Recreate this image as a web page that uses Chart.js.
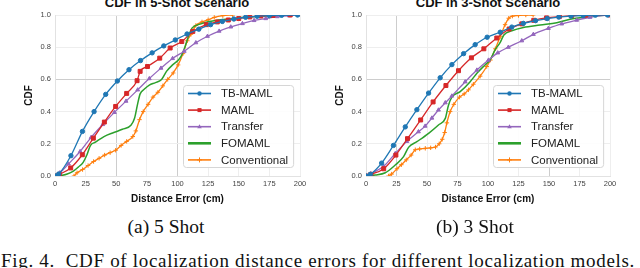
<!DOCTYPE html>
<html>
<head>
<meta charset="utf-8">
<script src="https://cdn.jsdelivr.net/npm/chart.js@4.4.1/dist/chart.umd.min.js"></script>
<style>
	html, body { margin: 0; padding: 0; background: #fff; }
	body { width: 640px; height: 268px; position: relative; overflow: hidden; font-family: "Liberation Sans", Arial, sans-serif; }
	canvas { position: absolute; top: 0; }
	.titulo { position: absolute; top: -4px; width: 320px; text-align: center; font-weight: bold; font-size: 13px; line-height: 14px; color: #111; }
	.sub { position: absolute; top: 216px; width: 200px; text-align: center; font-family: "Liberation Serif", "Times New Roman", serif; font-size: 19.5px; line-height: 22px; color: #111; white-space: nowrap; }
	.pie { position: absolute; top: 250px; left: 1px; font-family: "Liberation Serif", "Times New Roman", serif; font-size: 19px; line-height: 22px; color: #111; white-space: nowrap; }
</style>
</head>
<body>
<div class="titulo" style="left:17px">CDF in 5-Shot Scenario</div>
<div class="titulo" style="left:328px">CDF in 3-Shot Scenario</div>
<canvas id="grafico5" width="320" height="209" style="left:0"></canvas>
<canvas id="grafico3" width="320" height="209" style="left:311px"></canvas>
<div class="sub" style="left:66px">(a) 5 Shot</div>
<div class="sub" style="left:375px">(b) 3 Shot</div>
<div class="pie" id="pie">Fig. 4.&nbsp; CDF of localization distance errors for different localization models.</div>
<script>
// Modelos y colores
const modelos = ["TB-MAML", "MAML", "Transfer", "FOMAML", "Conventional"];
const colores = ["#1f77b4", "#d62728", "#9467bd", "#2ca02c", "#ff7f0e"];
const marcadores = ["circle", "rect", "triangle", "none", "cross"];

// 5-shot: pares [error (cm), CDF]
const tbMaml5 = [[0, 0], [3, 0.012], [13, 0.126], [22.4, 0.277], [31.9, 0.4], [41.4, 0.507], [50.9, 0.59], [60.4, 0.66], [69.8, 0.717], [79.3, 0.765], [88.8, 0.808], [98.2, 0.845], [107.8, 0.882], [117.4, 0.912], [127, 0.94], [136.6, 0.96], [146, 0.975], [155.6, 0.986], [165, 0.992], [175, 0.996], [185, 0.998], [198, 1.0]];
const maml5 = [[0, 0], [3.5, 0.01], [12.8, 0.05], [22.3, 0.132], [31.3, 0.235], [40.3, 0.335], [49.5, 0.432], [58.5, 0.513], [67, 0.592], [69.5, 0.65], [75.5, 0.68], [85.5, 0.732], [94, 0.795], [103.5, 0.835], [112.5, 0.898], [123.5, 0.94], [132.5, 0.957], [141.5, 0.969], [150, 0.978], [159, 0.988], [168, 0.994], [178, 0.997], [192, 1.0]];
const transfer5 = [[0, 0], [4, 0.02], [11, 0.075], [20.5, 0.152], [29.5, 0.24], [39, 0.32], [48.5, 0.395], [58, 0.465], [67.5, 0.535], [77, 0.605], [86.5, 0.67], [96, 0.73], [105.5, 0.775], [115, 0.828], [124.5, 0.868], [134, 0.9], [143.5, 0.926], [153, 0.947], [162.5, 0.966], [172, 0.978], [181.5, 0.99], [191, 0.996], [200, 1.0]];
const fomaml5 = [[0, 0], [5, 0.003], [10, 0.012], [15, 0.03], [19, 0.055], [23, 0.085], [26, 0.13], [29, 0.19], [33, 0.21], [40, 0.245], [48, 0.27], [55, 0.29], [62, 0.315], [65, 0.36], [67.5, 0.45], [69.5, 0.51], [73, 0.54], [77, 0.565], [82, 0.58], [87, 0.6], [91, 0.65], [96, 0.69], [100, 0.715], [103, 0.745], [106, 0.8], [109, 0.87], [112, 0.92], [117, 0.94], [125, 0.958], [135, 0.97], [150, 0.982], [165, 0.99], [180, 0.997], [195, 1.0]];
const conventional5 = [[15.5, 0], [18, 0.02], [22.5, 0.04], [27, 0.065], [31.5, 0.09], [36, 0.11], [40.5, 0.13], [45, 0.145], [49.5, 0.16], [54, 0.19], [58.5, 0.215], [63.5, 0.245], [66, 0.28], [69, 0.35], [72, 0.4], [76, 0.445], [80, 0.49], [84, 0.52], [88, 0.56], [92, 0.6], [96.5, 0.64], [100.5, 0.69], [104.5, 0.76], [108, 0.84], [111, 0.88], [115, 0.935], [120, 0.957], [125, 0.97], [130, 0.985], [137, 0.996], [145, 1.0]];

// 3-shot
const tbMaml3 = [[0, 0], [3.5, 0.01], [12.8, 0.08], [22.5, 0.19], [32.2, 0.305], [41.7, 0.412], [51.3, 0.515], [60.8, 0.61], [70.4, 0.692], [80, 0.76], [89.5, 0.816], [99.3, 0.862], [110, 0.893], [119.5, 0.925], [129, 0.948], [139, 0.965], [148.5, 0.978], [158, 0.987], [168, 0.993], [178, 0.997], [188, 0.999], [198, 1.0]];
const maml3 = [[0, 0], [4, 0.01], [14.5, 0.045], [24.5, 0.13], [34, 0.232], [44.8, 0.348], [55, 0.46], [65.5, 0.562], [75.8, 0.654], [86.4, 0.734], [96.6, 0.79], [107.2, 0.857], [117.3, 0.913], [127.7, 0.945], [137.5, 0.967], [148, 0.982], [158.5, 0.99], [168.6, 0.996], [180, 0.999], [200, 1.0]];
const transfer3 = [[0, 0], [4, 0.015], [14.5, 0.06], [24, 0.14], [33.5, 0.215], [43, 0.275], [48.5, 0.31], [54, 0.36], [59.4, 0.41], [65, 0.455], [70.4, 0.497], [81.3, 0.585], [90.9, 0.658], [100.4, 0.72], [108, 0.765], [116.7, 0.8], [127.7, 0.84], [137.2, 0.88], [149.5, 0.917], [160.4, 0.945], [172.7, 0.968], [183.6, 0.986], [198, 1.0]];
const fomaml3 = [[0, 0], [7.6, 0.006], [15.8, 0.02], [24, 0.068], [30.8, 0.12], [34.9, 0.178], [41.7, 0.213], [51.3, 0.265], [59.4, 0.317], [65, 0.358], [67.6, 0.44], [70.4, 0.49], [77.2, 0.524], [85.4, 0.586], [90.9, 0.638], [97.6, 0.69], [101.7, 0.72], [105.8, 0.783], [110, 0.83], [113, 0.876], [119.5, 0.902], [129, 0.923], [142.7, 0.938], [156.4, 0.952], [167.2, 0.973], [183.6, 0.989], [197, 1.0]];
const conventional3 = [[18.5, 0], [21, 0.012], [25.4, 0.045], [29, 0.07], [33, 0.1], [37, 0.13], [40.4, 0.163], [44, 0.168], [48.6, 0.172], [53, 0.175], [57, 0.18], [60, 0.2], [62.5, 0.228], [64.5, 0.27], [66.3, 0.33], [69, 0.4], [72, 0.445], [76.6, 0.49], [80.5, 0.51], [84, 0.535], [88, 0.57], [93.6, 0.62], [99, 0.68], [102, 0.72], [106, 0.79], [110, 0.865], [114, 0.94], [117, 0.98], [120, 0.993], [125, 0.997], [131, 1.0], [137, 1.0]];

const fuente = '"Liberation Sans", Arial, sans-serif';

// Dibuja un marcador pequeño (para la leyenda)
const marcador = (ctx, estilo, x, y, color) => {
	ctx.fillStyle = color;
	ctx.strokeStyle = color;
	ctx.lineWidth = 1;
	ctx.beginPath();
	if (estilo === "circle") {
		ctx.arc(x, y, 2.2, 0, Math.PI * 2);
		ctx.fill();
	} else if (estilo === "rect") {
		ctx.fillRect(x - 2, y - 2, 4, 4);
	} else if (estilo === "triangle") {
		ctx.moveTo(x, y - 2.4);
		ctx.lineTo(x + 2.3, y + 1.6);
		ctx.lineTo(x - 2.3, y + 1.6);
		ctx.closePath();
		ctx.fill();
	} else if (estilo === "cross") {
		ctx.moveTo(x - 2.5, y);
		ctx.lineTo(x + 2.5, y);
		ctx.moveTo(x, y - 2.5);
		ctx.lineTo(x, y + 2.5);
		ctx.stroke();
	}
};

// Leyenda dentro del área del gráfico, abajo a la derecha
const cuadroLeyenda = {
	id: "cuadroLeyenda",
	afterDatasetsDraw(chart) {
		const { ctx, chartArea } = chart;
		const sets = chart.data.datasets;
		ctx.save();
		ctx.font = "11.5px " + fuente;
		const anchoTexto = Math.max(...sets.map((d) => ctx.measureText(d.label).width));
		const ancho = 43 + anchoTexto;
		const alto = 82;
		const x0 = Math.round(chartArea.right - 7 - ancho);
		const y0 = Math.round(chartArea.bottom - 9 - alto);
		ctx.fillStyle = "rgba(255,255,255,0.85)";
		ctx.strokeStyle = "#d6d6d6";
		ctx.lineWidth = 1;
		ctx.beginPath();
		ctx.roundRect(x0 + 0.5, y0 + 0.5, ancho, alto, 3);
		ctx.fill();
		ctx.stroke();
		sets.forEach((d, i) => {
			const yc = y0 + 8.5 + i * 16.6;
			ctx.strokeStyle = d.borderColor;
			ctx.lineWidth = d.label === "FOMAML" ? 2.6 : 1.6;
			ctx.beginPath();
			ctx.moveTo(x0 + 5, yc);
			ctx.lineTo(x0 + 28, yc);
			ctx.stroke();
			marcador(ctx, d.marca, x0 + 16.5, yc, d.borderColor);
			ctx.fillStyle = "#222";
			ctx.textBaseline = "middle";
			ctx.fillText(d.label, x0 + 38, yc + 0.5);
		});
		ctx.restore();
	},
};

const cerca = (a, lista) => lista.some((b) => Math.abs(a - b) < 1e-6);

function grafico(id, series, oscurosX, derecha) {
	const ctx = document.getElementById(id);
	return new Chart(ctx, {
		type: "line",
		data: {
			datasets: series.map((pares, i) => ({
				label: modelos[i],
				data: pares.map(([x, y]) => ({ x: x, y: y })),
				borderColor: colores[i],
				backgroundColor: colores[i],
				borderWidth: i === 3 ? 1.5 : 1.3,
				pointStyle: marcadores[i] === "none" ? "circle" : marcadores[i],
				pointRadius: marcadores[i] === "none" ? 0 : (marcadores[i] === "rect" ? 2.8 : 2.2),
				pointBorderWidth: 1,
				cubicInterpolationMode: "monotone",
				marca: marcadores[i],
			})),
		},
		options: {
			responsive: false,
			animation: false,
			devicePixelRatio: 1,
			layout: { padding: { left: 19, right: derecha, top: 15, bottom: 0 } },
			plugins: { legend: { display: false }, tooltip: { enabled: false } },
			scales: {
				x: {
					type: "linear",
					min: 0,
					max: 200,
					afterFit: (s) => { s.height = 33; },
					ticks: { stepSize: 25, autoSkip: false, maxRotation: 0, padding: 3, color: "#444", font: { family: fuente, size: 7.5 } },
					grid: { drawTicks: false, color: (c) => (cerca(c.tick.value, oscurosX) ? "#cdcdcd" : "#eeeeee") },
					border: { color: "#e2e2e2" },
					title: { display: true, text: "Distance Error (cm)", color: "#111", font: { family: fuente, size: 10, weight: "bold" }, padding: { top: 0, bottom: 4 } },
				},
				y: {
					min: 0,
					max: 1,
					afterFit: (s) => { s.width = 36; },
					ticks: { stepSize: 0.2, padding: 4, color: "#444", font: { family: fuente, size: 7.5 }, callback: (v) => v.toFixed(1) },
					grid: { drawTicks: false, color: (c) => (cerca(c.tick.value, [0.6]) ? "#cdcdcd" : "#eeeeee") },
					border: { color: "#e2e2e2" },
					title: { display: true, text: "CDF", color: "#111", font: { family: fuente, size: 10, weight: "bold" }, padding: { top: 4, bottom: 0 } },
				},
			},
		},
		plugins: [cuadroLeyenda],
	});
}

grafico("grafico5", [tbMaml5, maml5, transfer5, fomaml5, conventional5], [50, 100], 20);
grafico("grafico3", [tbMaml3, maml3, transfer3, fomaml3, conventional3], [25, 75, 150], 21);

// El pie de figura ocupa todo el ancho, como en el original
const pie = document.getElementById("pie");
const sobra = 634 - pie.getBoundingClientRect().width;
pie.style.letterSpacing = (sobra / pie.textContent.length).toFixed(3) + "px";
</script>
</body>
</html>
